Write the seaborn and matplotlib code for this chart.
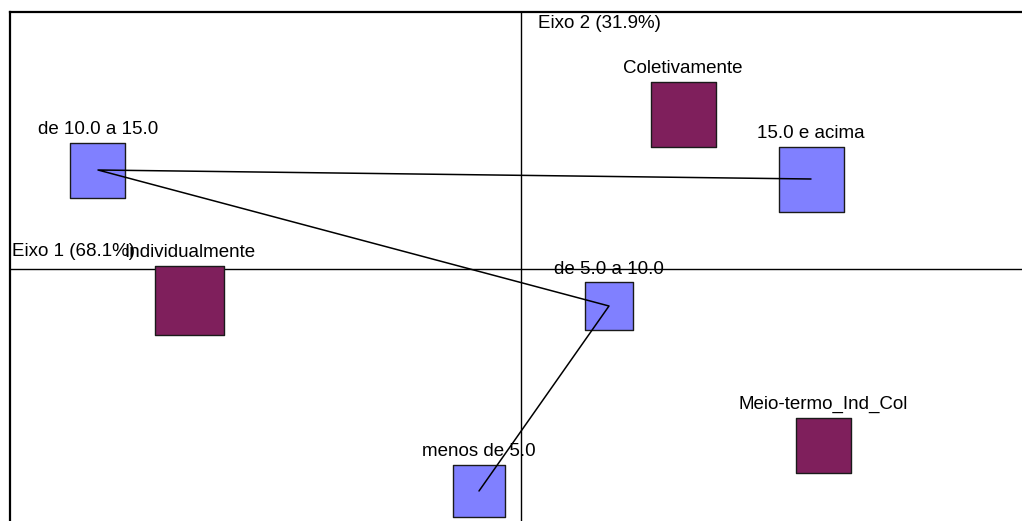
import matplotlib
matplotlib.use("Agg")
import matplotlib.pyplot as plt
import seaborn as sns
import pandas as pd

sns.set_style("white")
plt.rcParams["font.family"] = ["Liberation Sans", "DejaVu Sans"]
plt.rcParams["text.color"] = "black"

# Row categories (income bands) and their coordinates on the two axes
row_labels = ["menos de 5.0", "de 5.0 a 10.0", "de 10.0 a 15.0", "15.0 e acima"]
row_x = [-0.084, 0.176, -0.846, 0.580]
row_y = [-0.444, -0.074, 0.198, 0.180]
row_side = [53, 49, 56, 66]          # marker side, pixels (mass)

# Column categories (work mode)
col_labels = ["Coletivamente", "Individualmente", "Meio-termo_Ind_Col"]
col_x = [0.324, -0.662, 0.604]
col_y = [0.310, -0.062, -0.352]
col_side = [66, 70, 56]

axis1_label = "Eixo 1 (68.1%)"
axis2_label = "Eixo 2 (31.9%)"

W, H, DPI = 1022, 521, 100
fig = plt.figure(figsize=(W / DPI, H / DPI), dpi=DPI)
left_px, top_px = 10, 12
ax = fig.add_axes([left_px / W, 0, 1 - left_px / W, 1 - top_px / H])

scale = 500.0  # pixels per unit
ax.set_xlim((left_px - 521) / scale, (W - 521) / scale)
ax.set_ylim(-(H - 269) / scale, (269 - top_px) / scale)

px2pt = 72.0 / DPI

rows = pd.DataFrame({"x": row_x, "y": row_y, "label": row_labels, "side": row_side, "grp": "row"})
cols = pd.DataFrame({"x": col_x, "y": col_y, "label": col_labels, "side": col_side, "grp": "col"})
pts = pd.concat([rows, cols], ignore_index=True)
pts["s"] = ((pts["side"] - 1) * px2pt) ** 2

ax.axhline(0, color="black", lw=1.0, zorder=1)
ax.axvline(0, color="black", lw=1.0, zorder=1)

sns.scatterplot(data=pts, x="x", y="y", hue="grp", palette={"row": "#8080ff", "col": "#7f1f5c"},
                marker="s", s=pts["s"].tolist(), edgecolor="#1a1a1a", linewidth=1.0,
                legend=False, ax=ax, zorder=2)

# Trajectory through income bands
sns.lineplot(data=rows, x="x", y="y", sort=False, estimator=None, color="black",
             lw=1.1, ax=ax, zorder=3)

for _, r in pts.iterrows():
    ax.annotate(r["label"], xy=(r["x"], r["y"]),
                xytext=(0, (r["side"] / 2 + 8) * px2pt), textcoords="offset points",
                ha="center", va="baseline", fontsize=13.5, color="black", zorder=4)

ax.annotate(axis2_label, xy=(0, 1), xycoords=("data", "axes fraction"),
            xytext=(17 * px2pt, -12 * px2pt), textcoords="offset points",
            ha="left", va="center", fontsize=13.5, color="black", zorder=4)
ax.annotate(axis1_label, xy=(0, 0), xycoords=("axes fraction", "data"),
            xytext=(2 * px2pt, 13 * px2pt), textcoords="offset points",
            ha="left", va="baseline", fontsize=13.5, color="black", zorder=4)

for side in ["right", "bottom"]:
    ax.spines[side].set_visible(False)
for side in ["left", "top"]:
    ax.spines[side].set_color("black")
    ax.spines[side].set_linewidth(1.6)
ax.set_xticks([])
ax.set_yticks([])
ax.set_xlabel("")
ax.set_ylabel("")

fig.savefig("out.png", dpi=DPI)
